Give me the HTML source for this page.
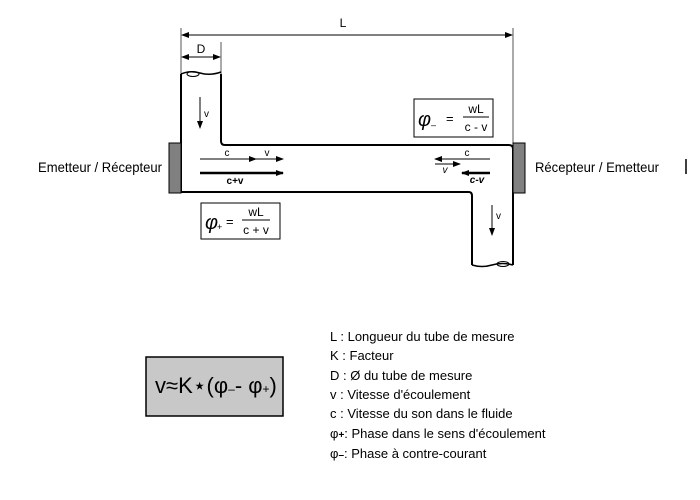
<!DOCTYPE html>
<html><head><meta charset="utf-8"><style>
body{margin:0;background:#fff;}
svg{display:block;font-family:"Liberation Sans",Arial,sans-serif;}
</style></head><body>
<svg width="700" height="500" viewBox="0 0 700 500" xmlns="http://www.w3.org/2000/svg">
<defs>
<marker id="ah" markerWidth="8" markerHeight="6" refX="7" refY="3" orient="auto" markerUnits="userSpaceOnUse"><path d="M0,0 L8,3 L0,6 z" fill="#000"/></marker>
<marker id="ahs" markerWidth="8" markerHeight="6" refX="1" refY="3" orient="auto" markerUnits="userSpaceOnUse"><path d="M8,0 L0,3 L8,6 z" fill="#000"/></marker>
</defs>
<!-- dimension lines -->
<line x1="181" y1="28" x2="181" y2="75" stroke="#555" stroke-width="1"/>
<line x1="513" y1="28" x2="513" y2="145" stroke="#555" stroke-width="1"/>
<line x1="221" y1="42" x2="221" y2="75" stroke="#555" stroke-width="1"/>
<line x1="182" y1="35" x2="512" y2="35" stroke="#000" stroke-width="1" marker-start="url(#ahs)" marker-end="url(#ah)"/>
<text x="343" y="27" font-size="12" text-anchor="middle">L</text>
<line x1="182" y1="57" x2="220" y2="57" stroke="#000" stroke-width="1" marker-start="url(#ahs)" marker-end="url(#ah)"/>
<text x="201" y="53" font-size="12" text-anchor="middle">D</text>
<!-- pipe -->
<path d="M181,74 L181,192 L469,192 Q472,192 472,196 L472,265" fill="none" stroke="#000" stroke-width="2"/>
<path d="M221,74 L221,141 Q221,145 225,145 L509,145 Q513,145 513,149 L513,265" fill="none" stroke="#000" stroke-width="2"/>
<path d="M181,74 Q190,70 200,73 Q210,76 221,72" fill="none" stroke="#000" stroke-width="1.5"/>
<ellipse cx="193" cy="74" rx="6" ry="2.5" fill="none" stroke="#000" stroke-width="1"/>
<path d="M472,265 Q482,268 492,265 Q502,262 513,265" fill="none" stroke="#000" stroke-width="1.5"/>
<ellipse cx="503" cy="264" rx="6" ry="2.5" fill="none" stroke="#000" stroke-width="1"/>
<!-- transducers -->
<rect x="169" y="143" width="12" height="50" fill="#808080" stroke="#000" stroke-width="1"/>
<rect x="513" y="143" width="12" height="50" fill="#808080" stroke="#000" stroke-width="1"/>
<!-- labels -->
<text x="38" y="172" font-size="14" textLength="124" lengthAdjust="spacingAndGlyphs">Emetteur / Récepteur</text>
<text x="535" y="172" font-size="14" textLength="124" lengthAdjust="spacingAndGlyphs">Récepteur / Emetteur</text>
<line x1="686" y1="159" x2="686" y2="174" stroke="#000" stroke-width="1.5"/>
<!-- v arrows -->
<line x1="200" y1="97" x2="200" y2="128" stroke="#000" stroke-width="1" marker-end="url(#ah)"/>
<text x="204" y="117" font-size="10">v</text>
<line x1="492" y1="205" x2="492" y2="235" stroke="#000" stroke-width="1" marker-end="url(#ah)"/>
<text x="496" y="219" font-size="10">v</text>
<!-- left arrows -->
<line x1="200" y1="159" x2="256" y2="159" stroke="#000" stroke-width="1" marker-end="url(#ah)"/>
<line x1="256" y1="159" x2="283" y2="159" stroke="#000" stroke-width="1" marker-end="url(#ah)"/>
<text x="227" y="156" font-size="10" text-anchor="middle">c</text>
<text x="267" y="156" font-size="10" text-anchor="middle">v</text>
<line x1="200" y1="173" x2="283" y2="173" stroke="#000" stroke-width="2.5" marker-end="url(#ah)"/>
<text x="235" y="184" font-size="10" font-weight="bold" text-anchor="middle">c+v</text>
<!-- right arrows -->
<line x1="490" y1="159" x2="435" y2="159" stroke="#000" stroke-width="1" marker-end="url(#ah)"/>
<text x="467" y="156" font-size="10" text-anchor="middle">c</text>
<line x1="435" y1="164" x2="460" y2="164" stroke="#000" stroke-width="1" marker-end="url(#ah)"/>
<text x="445" y="173" font-size="10" font-style="italic" text-anchor="middle">v</text>
<line x1="490" y1="173" x2="462" y2="173" stroke="#000" stroke-width="2.5" marker-end="url(#ah)"/>
<text x="477" y="183" font-size="10" font-weight="bold" font-style="italic" text-anchor="middle">c-v</text>
<!-- phi boxes -->
<rect x="414" y="99" width="79" height="38" fill="#fff" stroke="#000" stroke-width="1"/>
<text x="418" y="126" font-size="20" font-style="italic">φ</text>
<text x="431" y="128" font-size="9">–</text>
<text x="446" y="123" font-size="13">=</text>
<text x="476" y="113" font-size="12" text-anchor="middle">wL</text>
<line x1="463" y1="117" x2="489" y2="117" stroke="#000"/>
<text x="476" y="131" font-size="12" text-anchor="middle">c - v</text>
<rect x="201" y="203" width="79" height="36" fill="#fff" stroke="#000" stroke-width="1"/>
<text x="205" y="229" font-size="20" font-style="italic">φ</text>
<text x="217" y="230" font-size="9">+</text>
<text x="226" y="226" font-size="13">=</text>
<text x="256" y="216" font-size="12" text-anchor="middle">wL</text>
<line x1="242" y1="220" x2="270" y2="220" stroke="#000"/>
<text x="256" y="234" font-size="12" text-anchor="middle">c + v</text>
<!-- formula box -->
<rect x="146" y="357" width="137" height="59" fill="#c8c8c8" stroke="#000" stroke-width="1.5"/>
<text x="155" y="393" font-size="22">v≈K⋆(φ<tspan font-size="12">–</tspan>- φ<tspan font-size="12">+</tspan>)</text>
<!-- legend -->
<g font-size="13">
<text x="330" y="341">L :  Longueur du tube de mesure</text>
<text x="330" y="360">K :  Facteur</text>
<text x="330" y="380">D :  Ø du tube de mesure</text>
<text x="330" y="399">v :  Vitesse d'écoulement</text>
<text x="330" y="418">c :  Vitesse du son dans le fluide</text>
<text x="330" y="438">φ<tspan font-size="10" font-weight="bold">+</tspan>: Phase dans le sens d'écoulement</text>
<text x="330" y="458">φ<tspan font-size="10" font-weight="bold">–</tspan>: Phase à contre-courant</text>
</g>
</svg>
</body></html>
